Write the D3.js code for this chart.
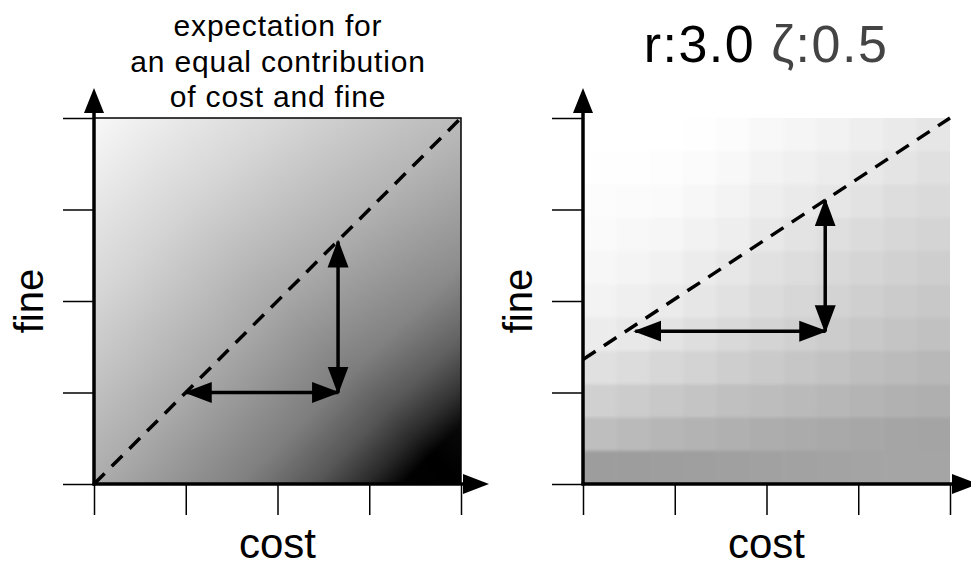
<!DOCTYPE html>
<html>
<head>
<meta charset="utf-8">
<script src="https://cdn.jsdelivr.net/npm/d3@7"></script>
<style>
  body { margin: 0; background: #fff; }
  text { font-family: "Liberation Sans", Arial, Helvetica, sans-serif; }
</style>
</head>
<body>
<script>
// data
const axisTicks = [0, 1, 2, 3, 4];
const leftTitle = ['expectation for', 'an equal contribution', 'of cost and fine'];
const rTitle = 'r:3.0', zTitle = '\u03b6:0.5';
// left panel: grey ramp along the cost-fine diagonal (offset, grey level)
const gradOffsets = [0, 0.25, 0.5, 0.7, 0.8, 0.87, 0.92, 1];
const gradGreys = [248, 212, 168, 124, 84, 40, 0, 0];
// right panel: 11x11 cells, rows from top (high fine) to bottom, cols from low cost to high
const heatRows = [
  [255, 255, 255, 254, 252, 248, 245, 242, 238, 234, 230],
  [254, 254, 253, 251, 248, 243, 240, 236, 232, 228, 224],
  [252, 251, 250, 247, 243, 238, 234, 230, 226, 221, 218],
  [250, 248, 246, 242, 238, 232, 227, 223, 219, 215, 212],
  [247, 244, 241, 236, 231, 225, 221, 217, 213, 209, 206],
  [243, 239, 235, 230, 225, 219, 215, 211, 207, 203, 200],
  [236, 232, 227, 222, 217, 212, 208, 204, 200, 196, 193],
  [224, 220, 215, 211, 206, 202, 198, 194, 190, 187, 184],
  [208, 204, 200, 196, 192, 189, 186, 183, 180, 177, 175],
  [190, 186, 182, 179, 176, 173, 171, 169, 167, 165, 164],
  [157, 157, 158, 159, 160, 161, 162, 163, 164, 165, 165]
];
// dashed reference lines [cost, fine]
const diagLeft = [[0, 0], [4, 4]];
const diagRight = [[0, 1.36], [4, 4]];
// double arrows [[cost,fine],[cost,fine]]
const arrowsLeft = [[[1, 1], [2.66, 1]], [[2.66, 1], [2.66, 2.65]]];
const arrowsRight = [[[0.57, 1.67], [2.64, 1.67]], [[2.64, 1.67], [2.64, 3.1]]];

let width = 971, height = 568;
let svg = d3.select('body').append('svg').attr('width', width).attr('height', height);
let defs = svg.append('defs');

// gradient for the left square
let grad = defs.append('linearGradient').attr('id', 'diag')
  .attr('x1', 0).attr('y1', 0).attr('x2', 1).attr('y2', 1);
gradOffsets.forEach((o, i) => {
  let g = gradGreys[i];
  grad.append('stop').attr('offset', o).attr('stop-color', d3.rgb(g, g, g));
});
// soft lightening towards the top-right corner
let lift = defs.append('linearGradient').attr('id', 'lift')
  .attr('x1', 0).attr('y1', 1).attr('x2', 1).attr('y2', 0);
lift.append('stop').attr('offset', 0).attr('stop-color', '#fff').attr('stop-opacity', 0.05);
lift.append('stop').attr('offset', 0.5).attr('stop-color', '#fff').attr('stop-opacity', 0);
lift.append('stop').attr('offset', 1).attr('stop-color', '#fff').attr('stop-opacity', 0.22);

// blur + clip for the right cells
defs.append('filter').attr('id', 'soft').attr('x', -0.1).attr('y', -0.1).attr('width', 1.2).attr('height', 1.2)
  .append('feGaussianBlur').attr('stdDeviation', 1.6);

// arrow head marker
defs.append('marker').attr('id', 'head')
  .attr('viewBox', '0 -11 28 22').attr('refX', 26).attr('refY', 0)
  .attr('markerWidth', 28).attr('markerHeight', 22)
  .attr('markerUnits', 'userSpaceOnUse').attr('orient', 'auto-start-reverse')
  .append('path').attr('d', 'M0,-10.5L28,0L0,10.5Z').attr('fill', '#000');

function panel(x0, x1) {
  let x = d3.scaleLinear().domain([0, 4]).range([x0, x1]);
  let y = d3.scaleLinear().domain([0, 4]).range([484, 118]);
  let g = svg.append('g');
  return { x, y, g };
}

let L = panel(94, 461);
let R = panel(583, 950);

// left square
L.g.append('rect').attr('x', L.x(0)).attr('y', L.y(4))
  .attr('width', L.x(4) - L.x(0)).attr('height', L.y(0) - L.y(4))
  .attr('fill', 'url(#diag)');
L.g.append('rect').attr('x', L.x(0)).attr('y', L.y(4))
  .attr('width', L.x(4) - L.x(0)).attr('height', L.y(0) - L.y(4))
  .attr('fill', 'url(#lift)').attr('stroke', '#000').attr('stroke-width', 1.5);

// right heat cells (edge cells padded so the blur doesn't fade the border)
defs.append('clipPath').attr('id', 'rclip').append('rect')
  .attr('x', R.x(0)).attr('y', R.y(4)).attr('width', R.x(4) - R.x(0)).attr('height', R.y(0) - R.y(4));
let cx = d3.scaleBand().domain(d3.range(11)).range([R.x(0), R.x(4)]);
let cy = d3.scaleBand().domain(d3.range(11)).range([R.y(4), R.y(0)]);
let cells = R.g.append('g').attr('clip-path', 'url(#rclip)').append('g').attr('filter', 'url(#soft)');
let pad = 8;
heatRows.forEach((row, ri) => {
  cells.selectAll(null).data(row).join('rect')
    .attr('x', (d, ci) => cx(ci) - (ci == 0 ? pad : 0))
    .attr('y', cy(ri) - (ri == 0 ? pad : 0))
    .attr('width', (d, ci) => cx.bandwidth() + 0.5 + (ci == 0 || ci == 10 ? pad : 0))
    .attr('height', cy.bandwidth() + 0.5 + (ri == 0 || ri == 10 ? pad : 0))
    .attr('fill', d => d3.rgb(d, d, d));
});

[L, R].forEach((p, k) => {
  // ticks
  p.g.append('g').attr('transform', `translate(0,${p.y(0)})`)
    .call(d3.axisBottom(p.x).tickValues(axisTicks).tickSize(31).tickFormat(''))
    .call(a => a.select('.domain').remove())
    .selectAll('line').attr('stroke', '#000').attr('stroke-width', 1.5);
  p.g.append('g').attr('transform', `translate(${p.x(0)},0)`)
    .call(d3.axisLeft(p.y).tickValues(axisTicks).tickSize(31).tickFormat(''))
    .call(a => a.select('.domain').remove())
    .selectAll('line').attr('stroke', '#000').attr('stroke-width', 1.5);

  // thick axes with arrow tips
  let ax = p.x(0), ay = p.y(0);
  p.g.append('line').attr('x1', ax).attr('y1', ay + 1.5).attr('x2', ax).attr('y2', p.y(4) - 6)
    .attr('stroke', '#000').attr('stroke-width', 3.5);
  p.g.append('line').attr('x1', ax - 1.5).attr('y1', ay).attr('x2', p.x(4) + 6).attr('y2', ay)
    .attr('stroke', '#000').attr('stroke-width', 3.5);
  p.g.append('path').attr('d', `M${ax - 10},${p.y(4) - 5}L${ax},${p.y(4) - 30}L${ax + 10},${p.y(4) - 5}Z`).attr('fill', '#000');
  p.g.append('path').attr('d', `M${p.x(4) + 2},${ay - 10}L${p.x(4) + 28},${ay}L${p.x(4) + 2},${ay + 10}Z`).attr('fill', '#000');

  // dashed line
  let diag = k == 0 ? diagLeft : diagRight;
  p.g.append('path').attr('d', d3.line().x(d => p.x(d[0])).y(d => p.y(d[1]))(diag))
    .attr('stroke', '#000').attr('stroke-width', 3.5).attr('stroke-dasharray', '15,10').attr('fill', 'none');

  // double arrows
  let arr = k == 0 ? arrowsLeft : arrowsRight;
  p.g.selectAll('.arr').data(arr).join('line').attr('class', 'arr')
    .attr('x1', d => p.x(d[0][0])).attr('y1', d => p.y(d[0][1]))
    .attr('x2', d => p.x(d[1][0])).attr('y2', d => p.y(d[1][1]))
    .attr('stroke', '#000').attr('stroke-width', 3.5)
    .attr('marker-start', 'url(#head)').attr('marker-end', 'url(#head)');

  // axis labels
  let mid = (p.x(0) + p.x(4)) / 2;
  p.g.append('text').attr('x', mid).attr('y', 558).attr('text-anchor', 'middle')
    .attr('font-size', 42).text('cost');
  p.g.append('text').attr('transform', `translate(${p.x(0) - 51},301) rotate(-90)`)
    .attr('text-anchor', 'middle').attr('font-size', 40).text('fine');
});

// titles
svg.append('g').selectAll('text').data(leftTitle).join('text')
  .attr('x', 278).attr('y', (d, i) => 36 + i * 35.5).attr('text-anchor', 'middle')
  .attr('font-size', 30).attr('letter-spacing', 0.8).text(d => d);
let t = svg.append('text').attr('x', 766).attr('y', 62).attr('text-anchor', 'middle')
  .attr('font-size', 52).attr('letter-spacing', 1.5);
t.append('tspan').attr('fill', '#000').text(rTitle + ' ');
t.append('tspan').attr('fill', '#444').text(zTitle);
</script>
</body>
</html>
